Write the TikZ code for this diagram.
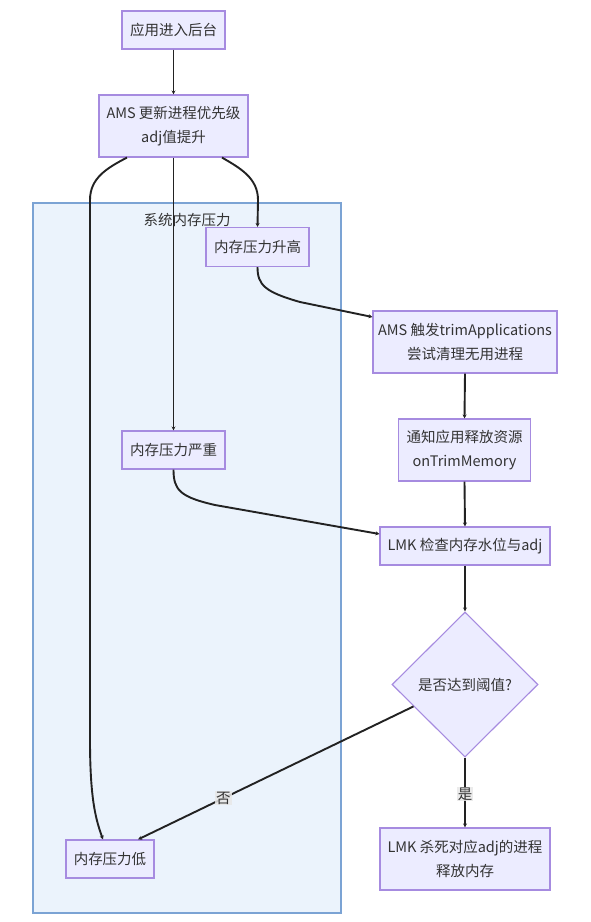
\documentclass[tikz,border=0pt]{standalone}
\usepackage{fontspec}
\setmainfont{Noto Sans CJK SC}
\usetikzlibrary{shapes.geometric,arrows.meta,calc}
\definecolor{nodefill}{HTML}{ECECFF}
\definecolor{nodeline}{HTML}{A68BE0}
\definecolor{grpfill}{HTML}{EBF3FC}
\definecolor{grpline}{HTML}{7BA3D4}
\definecolor{txt}{HTML}{333333}
\definecolor{edge}{HTML}{222222}
\definecolor{lblfill}{HTML}{E8E8E8}
\begin{document}
\begin{tikzpicture}[x=1pt,y=-1pt,
  box/.style={draw=nodeline,fill=nodefill,line width=1.1pt,text=txt,
    font=\fontsize{14.5pt}{24pt}\selectfont,align=center,inner sep=0pt},
  decision/.style={diamond,shape aspect=1,draw=nodeline,fill=nodefill,line width=1.1pt,text=txt,
    font=\fontsize{14.5pt}{24pt}\selectfont,align=center,inner sep=0pt,
    minimum width=146pt,minimum height=145pt},
  group/.style={draw=grpline,fill=grpfill,line width=1.1pt},
  grouptitle/.style={text=txt,font=\fontsize{14.5pt}{24pt}\selectfont,inner sep=0pt},
  arr/.style={draw=edge,line width=1.9pt,-{Stealth[length=4pt,width=4pt]}},
  lbl/.style={fill=lblfill,fill opacity=0.85,text opacity=1,text=txt,
    font=\fontsize{14.5pt}{18pt}\selectfont,inner sep=1pt}
]
\fill[white] (0,0) rectangle (590,922);
\useasboundingbox (0,0) rectangle (590,922);

% subgraph
\path[group] (33,203) rectangle (341,913);
\node[grouptitle] (GT) at (187,220) {系统内存压力};

% nodes
\node[box,minimum width=103pt,minimum height=38pt] (A) at (173.5,30) {应用进入后台};
\node[box,minimum width=149pt,minimum height=62pt] (B) at (173.5,126) {AMS 更新进程优先级\\adj值提升};
\node[box,minimum width=103pt,minimum height=39pt] (C) at (257.5,247) {内存压力升高};
\node[box,minimum width=184pt,minimum height=62pt] (D) at (465,342) {AMS 触发trimApplications\\尝试清理无用进程};
\node[box,minimum width=132pt,minimum height=62pt] (E) at (464.5,450) {通知应用释放资源\\onTrimMemory};
\node[box,minimum width=103pt,minimum height=38pt] (F) at (173.5,450) {内存压力严重};
\node[box,minimum width=170pt,minimum height=38pt] (G) at (465,546) {LMK 检查内存水位与adj};
\node[decision] (H) at (465,684.5) {是否达到阈值?};
\node[box,minimum width=170pt,minimum height=62pt] (I) at (465,859) {LMK 杀死对应adj的进程\\释放内存};
\node[box,minimum width=88pt,minimum height=38pt] (J) at (110,859) {内存压力低};

% edges
\draw[arr] (A.south) -- (B.north);
\draw[arr] ([xshift=48.5pt]B.south) .. controls (240,168) and (258,178) .. (258,200) -- (C.north);
\draw[arr] (B.south) -- (F.north);
\draw[arr] ([xshift=-46.5pt]B.south) .. controls (107,168) and (90,178) .. (90,200)
   -- (90,740) .. controls (90,800) and (96,820) .. ([xshift=-7pt]J.north);
\draw[arr] (C.south) .. controls (257.5,285) and (265,292) .. (300,302) -- ([yshift=25pt]D.west);
\draw[arr] (D.south) -- (E.north);
\draw[arr] (F.south) .. controls (173.5,490) and (180,497) .. (215,505) -- ([yshift=12pt]G.west);
\draw[arr] (E.south) -- (G.north);
\draw[arr] (G.south) -- (H.north);
\draw[arr] (H.south) -- node[lbl,pos=0.52] {是} (I.north);
\draw[arr] ($(H.west)!0.3!(H.south)$) -- node[lbl,pos=0.69] {否} ([xshift=28pt]J.north);
\end{tikzpicture}
\end{document}
